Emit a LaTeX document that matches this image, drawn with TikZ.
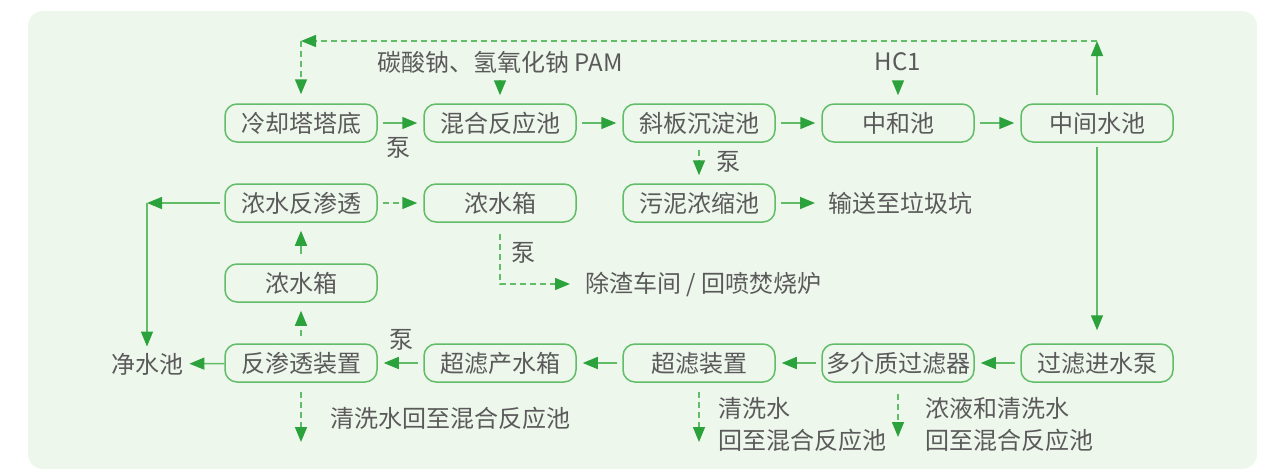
\documentclass[tikz,border=0pt]{standalone}
\usepackage{fontspec}
\setmainfont{Noto Sans CJK SC}
\usetikzlibrary{positioning, arrows.meta}
\definecolor{bggreen}{HTML}{EEF7EC}
\definecolor{linegreen}{HTML}{62BD69}
\definecolor{tipgreen}{HTML}{2BA23B}
\definecolor{txtgray}{HTML}{5A5A5A}
\tikzset{
  box/.style={draw=linegreen, line width=0.75pt, rounded corners=6pt,
    minimum width=76pt, minimum height=19pt, inner sep=0pt, text=txtgray},
  lbl/.style={text=txtgray, inner sep=1pt},
  flow/.style={draw=linegreen, line width=0.75pt,
    -{Triangle[length=7.5pt,width=6pt,color=tipgreen]},
    shorten <=2.5pt, shorten >=3pt},
  dflow/.style={flow, dash pattern=on 3pt off 2pt},
}

\begin{document}
\begin{tikzpicture}[x=0.5pt, y=-0.5pt, node distance=20.25pt and 22.75pt,
    font=\fontsize{12}{16}\selectfont]
  \useasboundingbox (0,0) rectangle (1274,471);
  \fill[bggreen, rounded corners=7.5pt] (28,11) rectangle (1257,469);

  % top row
  \node[box] (cool) at (301,123) {冷却塔塔底};
  \node[box, right=of cool] (mix) {混合反应池};
  \node[box, right=of mix] (slant) {斜板沉淀池};
  \node[box, right=of slant] (neut) {中和池};
  \node[box, right=of neut] (mid) {中间水池};
  % middle rows
  \node[box, below=of cool] (cro) {浓水反渗透};
  \node[box, below=of mix] (cbox) {浓水箱};
  \node[box, below=of slant] (sludge) {污泥浓缩池};
  \node[box, below=of cro] (cbox2) {浓水箱};
  % bottom row
  \node[box, below=of cbox2] (ro) {反渗透装置};
  \node[box, right=of ro] (ufbox) {超滤产水箱};
  \node[box, right=of ufbox] (uf) {超滤装置};
  \node[box, right=of uf] (mmf) {多介质过滤器};
  \node[box, right=of mmf] (pump) {过滤进水泵};

  % labels
  \node[lbl] (chem) at (500,62) {碳酸钠、氢氧化钠 PAM};
  \node[lbl] (hcl) at (898,62) {HC1};
  \node[lbl] (p1) at (398,148) {泵};
  \node[lbl] (p2) at (728,162) {泵};
  \node[lbl] (p3) at (523,253) {泵};
  \node[lbl] (p4) at (401,340) {泵};
  \node[lbl, anchor=west] (trash) at (826,203) {输送至垃圾坑};
  \node[lbl, anchor=west] (slag) at (583,284) {除渣车间 / 回喷焚烧炉};
  \node[lbl] (pure) at (147,364) {净水池};
  \node[lbl, anchor=west] (wash1) at (328,418) {清洗水回至混合反应池};
  \node[lbl, anchor=west, align=left] (wash2) at (716,424) {清洗水\\回至混合反应池};
  \node[lbl, anchor=west, align=left] (wash3) at (923,424) {浓液和清洗水\\回至混合反应池};

  \coordinate (tr) at (mid.north |- 0,41);
  \coordinate (tl) at (cool.north |- 0,41);
  \coordinate (cl) at (147,203);
  \coordinate (rodn) at (ro.south |- 0,442);
  \coordinate (ufdn) at (uf.south |- 0,442);
  \coordinate (mmfdn) at (mmf.south |- 0,437);

  % main line
  \draw[flow] (cool) -- (mix);
  \draw[flow] (mix) -- (slant);
  \draw[flow] (slant) -- (neut);
  \draw[flow] (neut) -- (mid);
  \draw[flow, shorten <=4pt, shorten >=0pt] (mid) -- (tr);
  \draw[dflow, shorten <=0pt, shorten >=0pt] (tr) -- (tl);
  \draw[dflow, shorten <=0pt, shorten >=4.5pt] (tl) -- (cool);
  \draw[flow, shorten <=2pt, shorten >=4pt] (chem) -- (mix);
  \draw[flow, shorten <=3.5pt, shorten >=4pt] (hcl) -- (neut);
  \draw[dflow, shorten <=3.5pt, shorten >=4pt] (slant) -- (sludge);
  \draw[flow, shorten >=5.5pt] (sludge) -- (trash);
  \draw[flow, shorten <=2pt, shorten >=6.5pt] (mid) -- (pump);
  \draw[flow] (pump) -- (mmf);
  \draw[flow] (mmf) -- (uf);
  \draw[flow] (uf) -- (ufbox);
  \draw[flow] (ufbox) -- (ro);
  \draw[flow, shorten <=0pt, shorten >=2pt] (ro) -- (pure);
  % concentrate line
  \draw[dflow, shorten <=3.5pt, shorten >=4pt] (ro) -- (cbox2);
  \draw[flow, shorten <=4.5pt, shorten >=4pt] (cbox2) -- (cro);
  \draw[dflow] (cro) -- (cbox);
  \draw[dflow, shorten <=5.5pt, shorten >=6.5pt] (cbox) |- (slag);
  \draw[flow, shorten <=2pt, shorten >=0pt] (cro) -- (cl);
  \draw[flow, shorten <=0pt, shorten >=2pt] (cl) -- (pure);
  % wash water
  \draw[dflow, shorten <=4.5pt, shorten >=0pt] (ro) -- (rodn);
  \draw[dflow, shorten <=4.5pt, shorten >=0pt] (uf) -- (ufdn);
  \draw[dflow, shorten <=5.5pt, shorten >=0pt] (mmf) -- (mmfdn);
\end{tikzpicture}
\end{document}
